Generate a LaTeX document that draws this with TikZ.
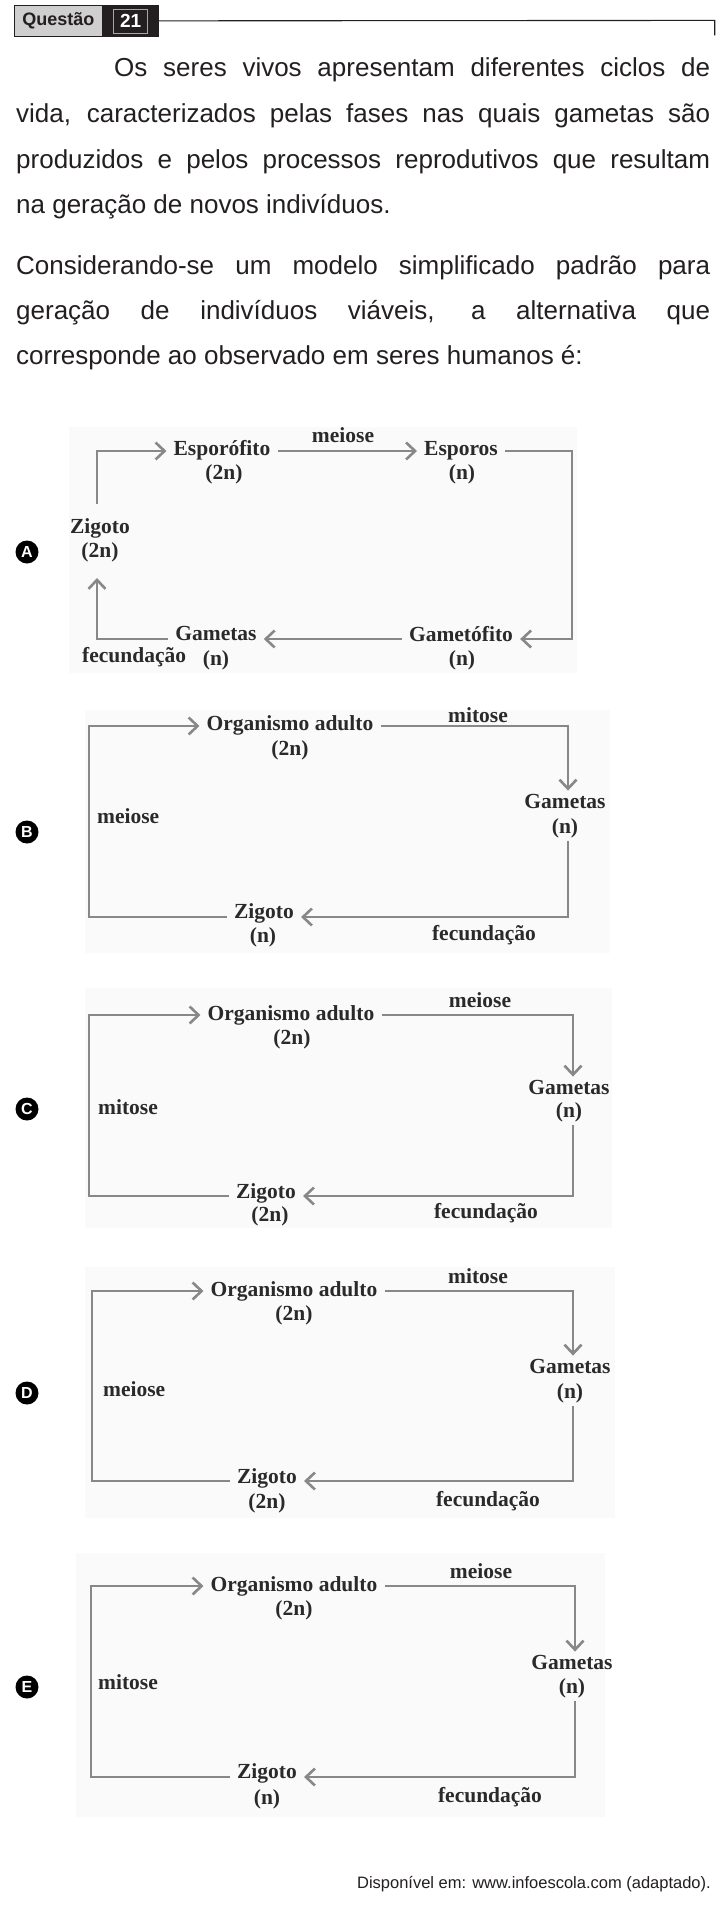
\documentclass[tikz,border=0pt]{standalone}
\usepackage{fontspec}
\setmainfont{Liberation Serif}
\newfontfamily\bodysans{Liberation Sans}
\usetikzlibrary{arrows.meta}
\definecolor{ink}{HTML}{231F20}
\definecolor{dink}{HTML}{2A2A2A}
\definecolor{arrgray}{HTML}{888888}
\definecolor{hdrgray}{HTML}{CFCFCF}
\definecolor{bgfaint}{HTML}{FAFAFA}
\begin{document}
\begin{tikzpicture}[x=1pt,y=-1pt,
  lbl/.style={font=\fontsize{21.5}{24}\selectfont\bfseries, text=dink, inner xsep=7pt, inner ysep=3pt, anchor=base},
  lblw/.style={lbl, anchor=base west},
  arr/.style={draw=arrgray, line width=2.6pt, -{Straight Barb[length=9pt,width=17pt]}},
  body/.style={font=\bodysans\fontsize{26}{30}\selectfont, text=ink, inner sep=0pt, anchor=base west},
  opt/.style={circle, fill=black, text=white, inner sep=0pt, minimum size=23pt, font=\bodysans\bfseries\fontsize{16}{16}\selectfont},
  bg/.style={fill=bgfaint, draw=none}]
\useasboundingbox (0,0) rectangle (724,1916);
\fill[white] (0,0) rectangle (724,1916);

% ---------- header ----------
\node[draw=ink, fill=hdrgray, line width=1pt, minimum width=87.7pt, minimum height=31.3pt, inner sep=0pt, anchor=north west,
      font=\bodysans\bfseries\fontsize{18}{18}\selectfont, text=ink] (qbox) at (14,4.7) {Questão};
\node[fill=ink, draw=ink, line width=1pt, minimum width=55pt, minimum height=31.3pt, inner sep=0pt, anchor=north west] (nbox) at (qbox.north east) {};
\node[draw=gray!70, line width=0.6pt, minimum width=34pt, minimum height=24pt, inner sep=0pt, text=white,
      font=\bodysans\bfseries\fontsize{19}{19}\selectfont] (num) at (nbox.center) {21};
\coordinate (hdrend) at (714.7,20.4);
\coordinate (hdrtick) at (714.7,35.5);
\draw[ink, line width=1.1pt] (nbox.east) -- (hdrend) -- (hdrtick);

% ---------- body text ----------
\node[body] (t1) at (114,77) {\makebox[596pt][s]{Os seres vivos apresentam diferentes ciclos de}};
\node[body] (t2) at (16,123) {\makebox[694pt][s]{vida, caracterizados pelas fases nas quais gametas são}};
\node[body] (t3) at (16,168) {\makebox[694pt][s]{produzidos e pelos processos reprodutivos que resultam}};
\node[body] (t4) at (16,213) {na geração de novos indivíduos.};
\node[body] (t5) at (16,274) {\makebox[694pt][s]{Considerando-se um modelo simplificado padrão para}};
\node[body] (t6) at (16,319) {\makebox[694pt][s]{geração de indivíduos viáveis, a alternativa que}};
\node[body] (t7) at (16,364) {corresponde ao observado em seres humanos é:};

% ---------- A ----------
\fill[bg] (69,427) rectangle (577,673);
\node[opt] (oA) at (27,552) {A};
\node[lbl] (zA) at (100,533) {Zigoto};
\node[lbl] (zA2) at (100,557) {(2n)};
\node[lbl] (espA) at (222,455) {Esporófito};
\node[lbl] (espA2) at (224,479) {(2n)};
\node[lbl] (meiA) at (343,442) {meiose};
\node[lbl] (sporA) at (461,455) {Esporos};
\node[lbl] (sporA2) at (462,479) {(n)};
\node[lbl] (gfA) at (461,641) {Gametófito};
\node[lbl] (gfA2) at (462,665) {(n)};
\node[lbl] (gmA) at (216,640) {Gametas};
\node[lbl] (gmA2) at (216,665) {(n)};
\node[lblw] (fecA) at (75,662) {fecundação};
\coordinate (A-tl) at (97,451);
\coordinate (A-tr) at (572,451);
\coordinate (A-br) at (572,639);
\coordinate (A-bl) at (97,639);
\coordinate (A-zt) at (97,504);
\coordinate (A-zb) at (97,578);
\draw[arr] (A-zt) -- (A-tl) -- (espA.west |- A-tl);
\draw[arr] (espA.east |- A-tl) -- (sporA.west |- A-tl);
\draw[arr] (sporA.east |- A-tl) -- (A-tr) -- (A-br) -- (gfA.east |- A-br);
\draw[arr] (gfA.west |- A-br) -- (gmA.east |- A-br);
\draw[arr] (gmA.west |- A-br) -- (A-bl) -- (A-zb);

% ---------- B ----------
\fill[bg] (85,710) rectangle (610,953);
\node[opt] (oB) at (27,832) {B};
\node[lbl] (orgB) at (290,730) {Organismo adulto};
\node[lbl] (orgB2) at (290,755) {(2n)};
\node[lbl] (mitB) at (478,722) {mitose};
\node[lbl] (gamB) at (565,808) {Gametas};
\node[lbl] (gamB2) at (565,833) {(n)};
\node[lbl] (zigB) at (264,918) {Zigoto};
\node[lbl] (zigB2) at (263,942) {(n)};
\node[lbl] (fecB) at (484,940) {fecundação};
\node[lblw] (meiB) at (90,823) {meiose};
\coordinate (B-tl) at (89,726);
\coordinate (B-tr) at (568,726);
\coordinate (B-br) at (568,917);
\coordinate (B-bl) at (89,917);
\draw[arr] (zigB.west |- B-bl) -- (B-bl) -- (B-tl) -- (orgB.west |- B-tl);
\draw[arr] (orgB.east |- B-tl) -- (B-tr) -- (gamB.north -| B-tr);
\draw[arr] (gamB2.south -| B-tr) -- (B-br) -- (zigB.east |- B-br);

% ---------- C ----------
\fill[bg] (85,988) rectangle (612,1228);
\node[opt] (oC) at (27,1109) {C};
\node[lbl] (orgC) at (291,1020) {Organismo adulto};
\node[lbl] (orgC2) at (292,1044) {(2n)};
\node[lbl] (meiC) at (480,1007) {meiose};
\node[lbl] (gamC) at (569,1094) {Gametas};
\node[lbl] (gamC2) at (569,1117) {(n)};
\node[lbl] (zigC) at (266,1198) {Zigoto};
\node[lbl] (zigC2) at (270,1221) {(2n)};
\node[lbl] (fecC) at (486,1218) {fecundação};
\node[lblw] (mitC) at (91,1114) {mitose};
\coordinate (C-tl) at (89,1015);
\coordinate (C-tr) at (573,1015);
\coordinate (C-br) at (573,1196);
\coordinate (C-bl) at (89,1196);
\draw[arr] (zigC.west |- C-bl) -- (C-bl) -- (C-tl) -- (orgC.west |- C-tl);
\draw[arr] (orgC.east |- C-tl) -- (C-tr) -- (gamC.north -| C-tr);
\draw[arr] (gamC2.south -| C-tr) -- (C-br) -- (zigC.east |- C-br);

% ---------- D ----------
\fill[bg] (85,1267) rectangle (615,1518);
\node[opt] (oD) at (27,1393) {D};
\node[lbl] (orgD) at (294,1296) {Organismo adulto};
\node[lbl] (orgD2) at (294,1320) {(2n)};
\node[lbl] (mitD) at (478,1283) {mitose};
\node[lbl] (gamD) at (570,1373) {Gametas};
\node[lbl] (gamD2) at (570,1398) {(n)};
\node[lbl] (zigD) at (267,1483) {Zigoto};
\node[lbl] (zigD2) at (267,1508) {(2n)};
\node[lbl] (fecD) at (488,1506) {fecundação};
\node[lblw] (meiD) at (96,1396) {meiose};
\coordinate (D-tl) at (92,1291);
\coordinate (D-tr) at (573,1291);
\coordinate (D-br) at (573,1481);
\coordinate (D-bl) at (92,1481);
\draw[arr] (zigD.west |- D-bl) -- (D-bl) -- (D-tl) -- (orgD.west |- D-tl);
\draw[arr] (orgD.east |- D-tl) -- (D-tr) -- (gamD.north -| D-tr);
\draw[arr] (gamD2.south -| D-tr) -- (D-br) -- (zigD.east |- D-br);

% ---------- E ----------
\fill[bg] (76,1553) rectangle (605,1817);
\node[opt] (oE) at (27,1687) {E};
\node[lbl] (orgE) at (294,1591) {Organismo adulto};
\node[lbl] (orgE2) at (294,1615) {(2n)};
\node[lbl] (meiE) at (481,1578) {meiose};
\node[lbl] (gamE) at (572,1669) {Gametas};
\node[lbl] (gamE2) at (572,1693) {(n)};
\node[lbl] (zigE) at (267,1778) {Zigoto};
\node[lbl] (zigE2) at (267,1804) {(n)};
\node[lbl] (fecE) at (490,1802) {fecundação};
\node[lblw] (mitE) at (91,1689) {mitose};
\coordinate (E-tl) at (91,1586);
\coordinate (E-tr) at (575,1586);
\coordinate (E-br) at (575,1777);
\coordinate (E-bl) at (91,1777);
\draw[arr] (zigE.west |- E-bl) -- (E-bl) -- (E-tl) -- (orgE.west |- E-tl);
\draw[arr] (orgE.east |- E-tl) -- (E-tr) -- (gamE.north -| E-tr);
\draw[arr] (gamE2.south -| E-tr) -- (E-br) -- (zigE.east |- E-br);

% ---------- source ----------
\node[font=\bodysans\fontsize{16.5}{18}\selectfont, text=ink, anchor=base east, inner sep=0pt] (src) at (711,1888) {Disponível em: www.infoescola.com (adaptado).};
\end{tikzpicture}
\end{document}
